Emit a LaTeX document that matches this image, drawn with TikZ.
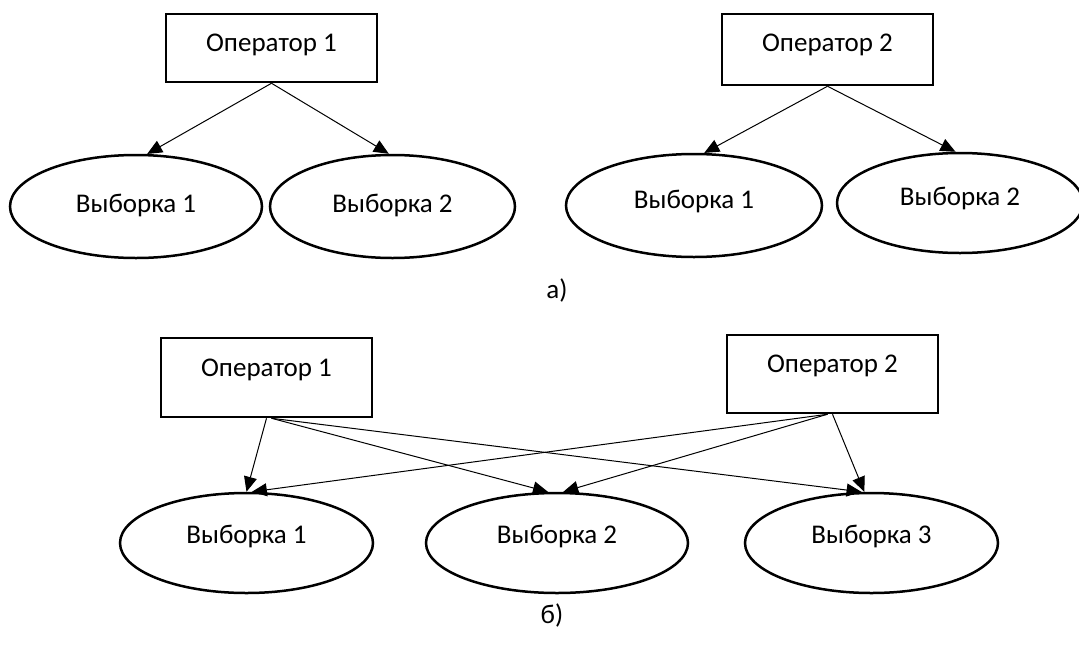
\documentclass[tikz,border=0pt]{standalone}
\usepackage{fontspec}
\setmainfont{Carlito}
\usetikzlibrary{arrows.meta,shapes.geometric}
\begin{document}
\begin{tikzpicture}[x=1pt,y=-1pt,
  every node/.style={font=\fontsize{27}{32}\selectfont},
  opbox/.style={draw,line width=2.5pt,rectangle,minimum width=211pt,text height=20pt},
  sample/.style={draw,line width=2.5pt,ellipse,inner sep=0pt,text height=20pt},
  lift/.style={text depth=#1},
  link/.style={line width=1pt,-{Triangle[length=15pt,width=13pt]}}]
\useasboundingbox (0,0) rectangle (1079,648);

% part a): each operator measures its own pair of samples
\node[opbox,minimum height=68pt,lift=12.6pt] (a1) at (271.5,48) {Оператор 1};
\node[opbox,minimum height=71pt,lift=15.6pt] (a2) at (827.5,49.5) {Оператор 2};
\node[sample,minimum width=252pt,minimum height=103pt,lift=8.6pt] (ae1) at (136,206.5) {Выборка 1};
\node[sample,minimum width=245pt,minimum height=103pt,lift=8.6pt] (ae2) at (392.5,206.5) {Выборка 2};
\node[sample,minimum width=256pt,minimum height=103pt,lift=13.6pt] (ae3) at (694,205.5) {Выборка 1};
\node[sample,minimum width=246pt,minimum height=100pt,lift=14.6pt] (ae4) at (960,203) {Выборка 2};
\draw[link] (a1.south) -- (ae1.78);
\draw[link] (a1.south) -- (ae2.94);
\draw[link] (a2.south) -- (ae3.79);
\draw[link] (a2.south) -- (ae4.95);
\node (capa) at (557,290) {а)};

% part b): both operators measure all three samples
\node[opbox,minimum height=79pt,lift=21.6pt] (b1) at (266.5,377.5) {Оператор 1};
\node[opbox,minimum height=78pt,lift=22.6pt] (b2) at (832.5,374) {Оператор 2};
\node[sample,minimum width=253pt,minimum height=100pt,lift=18.6pt] (be1) at (246.5,543) {Выборка 1};
\node[sample,minimum width=262pt,minimum height=100pt,lift=18.6pt] (be2) at (557,543) {Выборка 2};
\node[sample,minimum width=253pt,minimum height=100pt,lift=18.6pt] (be3) at (871.5,543) {Выборка 3};
\coordinate (b1o) at ([xshift=5pt]b1.south);
\coordinate (b2o) at ([xshift=-5pt]b2.south);
\draw[link] (b1.south) -- (be1.north);
\draw[link] (b1o) -- (be2.100);
\draw[link] (b1o) -- (be3.101);
\draw[link] (b2o) -- (be1.84);
\draw[link] (b2o) -- (be2.83);
\draw[link] (b2.south) -- (be3.98);
\node (capb) at (552,615) {б)};
\end{tikzpicture}
\end{document}
